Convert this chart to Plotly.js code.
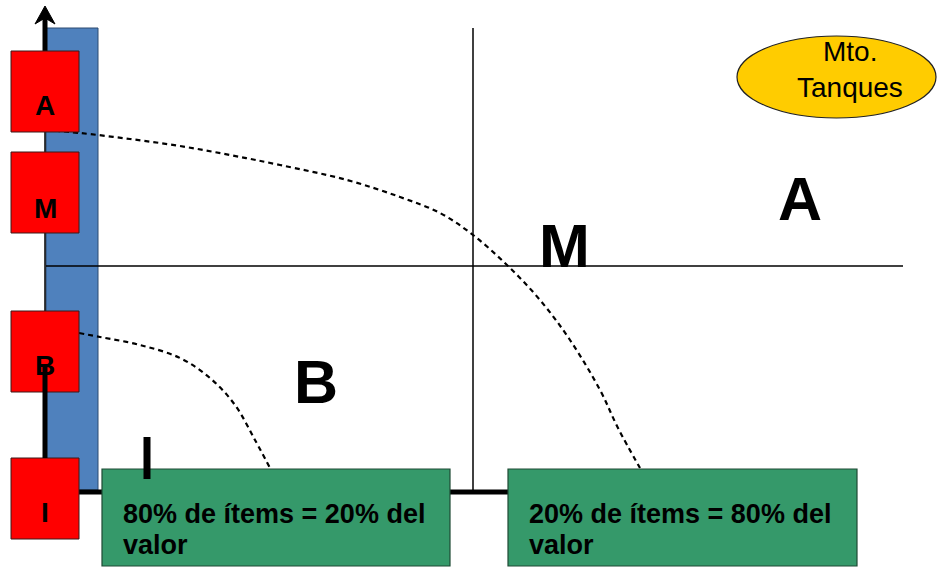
<!DOCTYPE html>
<html>
<head>
<meta charset="utf-8">
<script src="https://cdn.plot.ly/plotly-3.0.1.min.js"></script>
<style>html,body{margin:0;padding:0;background:#fff;}#chart{width:945px;height:569px;}</style>
</head>
<body>
<div id="chart"></div>
<script>
// ---- data (diagram coordinates, y measured downward) ----
const boxLabels = ['A', 'M', 'B', 'I'];
const boxTop = [51, 152, 311, 458];
const boxBottom = [132, 233, 392, 539];
const boxLabelY = [105, 208, 365, 512];
const zoneLabels = ['A', 'M', 'B'];
const zoneX = [800, 564, 316];
const zoneY = [199, 246, 382];
const curveHighX = [46, 80, 130, 180, 230, 280, 347, 400, 440, 473, 508, 540, 570, 600, 618, 640];
const curveHighY = [130, 133, 139, 146, 155, 165, 180, 197, 213, 235, 266, 300, 340, 390, 428, 468];
const curveLowX = [79, 100, 140, 180, 210, 235, 255, 270];
const curveLowY = [333, 337, 345, 358, 378, 405, 440, 468];
const noteLine1 = ['80% de ítems = 20% del', '20% de ítems = 80% del'];
const noteLine2 = ['valor', 'valor'];
const noteX0 = [102, 508];
const noteX1 = [450, 857];
const badgeLines = ['Mto.', 'Tanques'];
const badgeLineY = [51, 87];

const FONT = 'Liberation Sans, Arial, sans-serif';

const traces = [
  {x: curveHighX, y: curveHighY, mode: 'lines', line: {color: '#000', width: 2.2, dash: '5px,4px', shape: 'spline'}, hoverinfo: 'skip'},
  {x: curveLowX, y: curveLowY, mode: 'lines', line: {color: '#000', width: 2.2, dash: '5px,4px', shape: 'spline'}, hoverinfo: 'skip'}
];

const shapes = [];
// blue column
shapes.push({type: 'rect', layer: 'below', x0: 46, x1: 98, y0: 28, y1: 490, fillcolor: '#4f81bd', line: {color: '#2c4a70', width: 1}});
// thin quadrant lines
shapes.push({type: 'line', layer: 'below', x0: 46, x1: 903, y0: 266, y1: 266, line: {color: '#000', width: 1.5}});
shapes.push({type: 'line', layer: 'below', x0: 473, x1: 473, y0: 28, y1: 492, line: {color: '#000', width: 1.5}});
shapes.push({type: 'line', layer: 'below', x0: 45, x1: 45, y0: 28, y1: 490, line: {color: '#000', width: 1.5}});
// thick axes
shapes.push({type: 'line', x0: 45, x1: 45, y0: 14, y1: 51, line: {color: '#000', width: 5}});
shapes.push({type: 'path', path: 'M 35 24 L 45 6 L 55 24 L 45 18 Z', fillcolor: '#000', line: {color: '#000', width: 1}});
shapes.push({type: 'line', x0: 79, x1: 857, y0: 492, y1: 492, line: {color: '#000', width: 5}});
// red boxes
for (let i = 0; i < boxLabels.length; i++) {
  shapes.push({type: 'rect', x0: 11, x1: 79, y0: boxTop[i], y1: boxBottom[i], fillcolor: '#ff0000', line: {color: '#3a1a1a', width: 1}});
}
// thick B-I connector drawn over box B
shapes.push({type: 'line', x0: 45, x1: 45, y0: 366, y1: 458, line: {color: '#000', width: 5}});
// green boxes
for (let i = 0; i < noteLine1.length; i++) {
  shapes.push({type: 'rect', x0: noteX0[i], x1: noteX1[i], y0: 469, y1: 566, fillcolor: '#35996a', line: {color: '#1e4a34', width: 1.2}});
}
// "I" bar
shapes.push({type: 'line', x0: 147, x1: 147, y0: 437, y1: 479, line: {color: '#000', width: 7}});
// yellow ellipse
shapes.push({type: 'circle', x0: 737, x1: 936, y0: 36, y1: 118, fillcolor: '#ffcc00', line: {color: '#222', width: 1.2}});

const annotations = [];
for (let i = 0; i < boxLabels.length; i++) {
  annotations.push({x: 45, y: boxLabelY[i], text: boxLabels[i], showarrow: false, font: {family: FONT, size: 28, color: '#000', weight: 'bold'}, xanchor: 'center', yanchor: 'middle'});
}
for (let i = 0; i < zoneLabels.length; i++) {
  annotations.push({x: zoneX[i], y: zoneY[i], text: zoneLabels[i], showarrow: false, font: {family: FONT, size: 61, color: '#000', weight: 'bold'}, xanchor: 'center', yanchor: 'middle'});
}
for (let i = 0; i < noteLine1.length; i++) {
  annotations.push({x: noteX0[i] + 19, y: 514, text: noteLine1[i], showarrow: false, font: {family: FONT, size: 27, color: '#000', weight: 'bold'}, xanchor: 'left', yanchor: 'middle', align: 'left'});
  annotations.push({x: noteX0[i] + 19, y: 545, text: noteLine2[i], showarrow: false, font: {family: FONT, size: 27, color: '#000', weight: 'bold'}, xanchor: 'left', yanchor: 'middle', align: 'left'});
}
for (let i = 0; i < badgeLines.length; i++) {
  annotations.push({x: 850, y: badgeLineY[i], text: badgeLines[i], showarrow: false, font: {family: FONT, size: 28, color: '#000'}, xanchor: 'center', yanchor: 'middle'});
}

const layout = {
  width: 945, height: 569,
  margin: {l: 0, r: 0, t: 0, b: 0},
  paper_bgcolor: '#fff', plot_bgcolor: '#fff',
  showlegend: false,
  xaxis: {range: [0, 945], visible: false, fixedrange: true},
  yaxis: {range: [569, 0], visible: false, fixedrange: true},
  shapes: shapes,
  annotations: annotations
};

Plotly.newPlot('chart', traces, layout, {displayModeBar: false, staticPlot: true});
</script>
</body>
</html>
